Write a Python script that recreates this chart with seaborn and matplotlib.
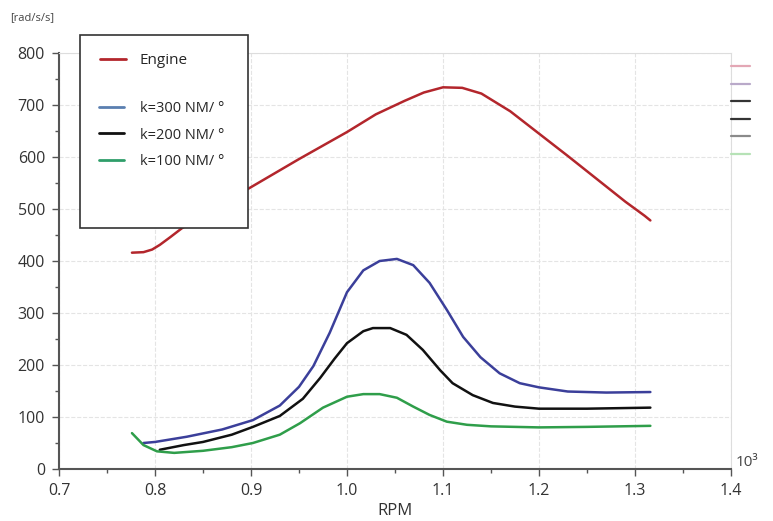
import numpy as np
import pandas as pd
import matplotlib.pyplot as plt
from matplotlib.lines import Line2D
from matplotlib.patches import Rectangle
from matplotlib.ticker import MultipleLocator
import seaborn as sns

# Values (RPM in 10^3, acceleration in rad/s/s)
engine_rpm = [0.776, 0.788, 0.797, 0.805, 0.816, 0.828, 0.85, 0.90, 0.95, 1.00, 1.03,
              1.06, 1.08, 1.10, 1.12, 1.14, 1.17, 1.20, 1.23, 1.26, 1.29, 1.31, 1.316]
engine_acc = [416, 417, 422, 431, 446, 463, 488, 542, 596, 648, 682,
              708, 724, 734, 733, 722, 688, 645, 602, 558, 514, 487, 478]

k300_rpm = [0.788, 0.80, 0.833, 0.87, 0.902, 0.93, 0.950, 0.965, 0.982, 1.00, 1.017,
            1.034, 1.052, 1.069, 1.086, 1.104, 1.121, 1.139, 1.159, 1.18, 1.20,
            1.23, 1.27, 1.316]
k300_acc = [50, 52, 62, 76, 94, 122, 158, 198, 262, 340, 382,
            400, 404, 392, 358, 306, 254, 215, 184, 165, 157,
            149, 147, 148]

k200_rpm = [0.805, 0.83, 0.85, 0.88, 0.902, 0.93, 0.954, 0.972, 0.987, 1.00, 1.017,
            1.027, 1.045, 1.062, 1.079, 1.097, 1.110, 1.131, 1.152, 1.175, 1.20,
            1.25, 1.316]
k200_acc = [37, 46, 52, 66, 81, 102, 135, 175, 212, 242, 265,
            271, 271, 258, 229, 190, 165, 142, 127, 120, 116,
            116, 118]

k100_rpm = [0.776, 0.788, 0.802, 0.82, 0.85, 0.88, 0.902, 0.93, 0.951, 0.975, 1.00,
            1.017, 1.034, 1.052, 1.069, 1.086, 1.104, 1.125, 1.15, 1.20, 1.25, 1.316]
k100_acc = [69, 46, 34, 31, 35, 42, 50, 66, 88, 118, 139,
            144, 144, 137, 120, 104, 91, 85, 82, 80, 81, 83]

series_names = ["Engine", "k=300 NM/ °", "k=200 NM/ °", "k=100 NM/ °"]
line_colors = ["#b3262c", "#3b3f9a", "#111111", "#2f9e4a"]
legend_colors = ["#b3262c", "#5a7fb0", "#111111", "#2f9e6a"]

x_ticks = [0.7, 0.8, 0.9, 1.0, 1.1, 1.2, 1.3, 1.4]
y_ticks = [0, 100, 200, 300, 400, 500, 600, 700, 800]

frames = []
for name, xs, ys in zip(series_names,
                        [engine_rpm, k300_rpm, k200_rpm, k100_rpm],
                        [engine_acc, k300_acc, k200_acc, k100_acc]):
    frames.append(pd.DataFrame({"rpm": xs, "acc": ys, "series": name}))
df = pd.concat(frames, ignore_index=True)

sns.set_style("white")
plt.rcParams['font.family'] = ['Open Sans', 'DejaVu Sans']

fig = plt.figure(figsize=(7.73, 5.21), dpi=100)
ax = fig.add_axes([59 / 773, 1 - 469 / 521, (731 - 59) / 773, (469 - 53) / 521])

for name, col in zip(series_names, line_colors):
    sub = df[df["series"] == name]
    sns.lineplot(data=sub, x="rpm", y="acc", color=col, linewidth=1.8,
                 sort=False, estimator=None, ax=ax, legend=False)

ax.set_xlim(0.7, 1.4)
ax.set_ylim(0, 800)
ax.set_xticks(x_ticks)
ax.set_xticklabels([f"{v:.1f}" for v in x_ticks])
ax.set_yticks(y_ticks)
ax.xaxis.set_minor_locator(MultipleLocator(0.05))
ax.yaxis.set_minor_locator(MultipleLocator(50))
ax.grid(True, which="major", color="#e4e4e4", linestyle="--", linewidth=0.8)
ax.tick_params(which="major", direction="out", length=5, width=1, color="#555555",
               labelsize=11.5, labelcolor="#333333", bottom=True, left=True, pad=5)
ax.tick_params(which="minor", direction="out", length=3, width=1, color="#555555",
               bottom=True, left=True)
for s in ["left", "bottom"]:
    ax.spines[s].set_color("#555555")
    ax.spines[s].set_linewidth(1.5)
for s in ["top", "right"]:
    ax.spines[s].set_color("#dddddd")
    ax.spines[s].set_linewidth(0.8)

ax.set_xlabel("RPM", fontsize=12, color="#333333", labelpad=3)
ax.set_ylabel("")
fig.text(10 / 773, 1 - 18 / 521, "[rad/s/s]", fontsize=8, color="#444444", va="center")
fig.text(736 / 773, 1 - 463 / 521, "10³", fontsize=11, color="#444444", va="center")

# legend box
fig.add_artist(Rectangle((80 / 773, 1 - 228 / 521), 168 / 773, 193 / 521,
                         transform=fig.transFigure, facecolor="white",
                         edgecolor="#333333", linewidth=1.2, zorder=5))
leg1 = fig.legend([Line2D([], [], color=legend_colors[0], lw=2)], [series_names[0]],
                  loc="center left", bbox_to_anchor=(86 / 773, 1 - 61 / 521),
                  frameon=False, fontsize=11, handlelength=1.7, handletextpad=0.9)
leg1.set_zorder(6)
k_handles = [Line2D([], [], color=c, lw=2) for c in legend_colors[1:]]
leg2 = fig.legend(k_handles, series_names[1:], loc="upper left",
                  bbox_to_anchor=(86 / 773, 1 - 88 / 521), frameon=False,
                  fontsize=10.5, handlelength=1.7, handletextpad=1.1,
                  labelspacing=0.78)
leg2.set_zorder(6)

# faint leftover legend marks at the right edge
mark_y = [66, 84, 101, 119, 136, 154]
mark_c = ["#e3a7b5", "#b9a9c9", "#333333", "#333333", "#8a8a8a", "#b6e2b6"]
for yy, cc in zip(mark_y, mark_c):
    fig.add_artist(Line2D([731 / 773, 750 / 773], [1 - yy / 521, 1 - yy / 521],
                          color=cc, lw=1.6, transform=fig.transFigure))

fig.savefig("out.png", dpi=100)
